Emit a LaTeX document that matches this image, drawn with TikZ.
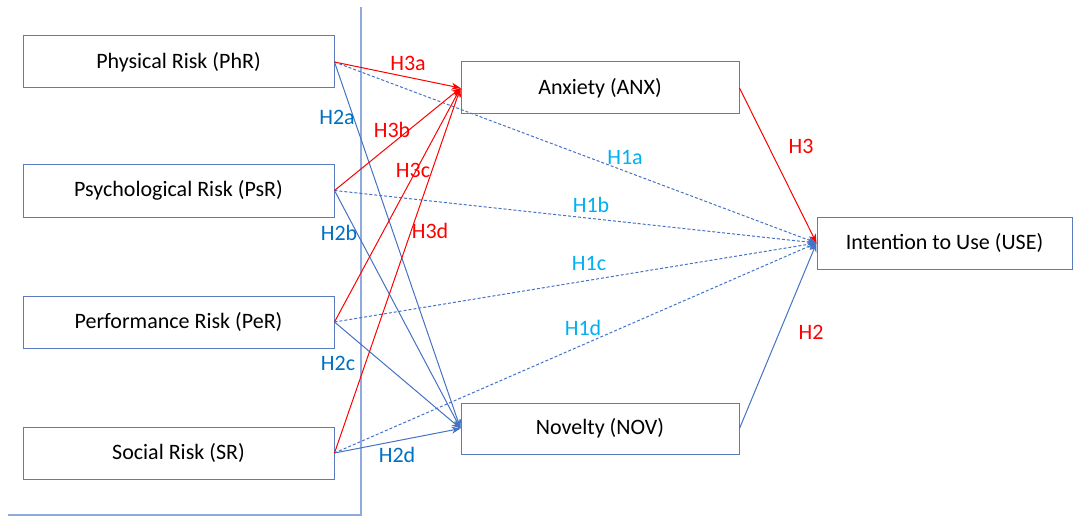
\documentclass[tikz,border=0pt]{standalone}
\usepackage{fontspec}
\setmainfont{Carlito}
\usetikzlibrary{arrows.meta}
\definecolor{boxline}{HTML}{5B7BBF}
\definecolor{linkblue}{HTML}{4472C4}
\definecolor{hblue}{HTML}{0070C0}
\definecolor{hcyan}{HTML}{00B0F0}
\definecolor{hred}{HTML}{FF0000}
\definecolor{frameline}{HTML}{8FAADC}
\tikzset{
  construct/.style={draw=boxline, line width=1pt, inner sep=0pt, font=\fontsize{22}{26}\selectfont},
  redlink/.style={draw=hred, line width=1pt, -{Stealth[length=9pt,width=7pt]}},
  bluelink/.style={draw=linkblue, line width=1pt, -{Stealth[length=9pt,width=7pt]}},
  dotlink/.style={draw=linkblue, line width=1pt, dash pattern=on 3pt off 2pt, -{Stealth[length=9pt,width=7pt]}},
  hyp/.style={font=\fontsize{22}{26}\selectfont, inner sep=0pt},
}
\begin{document}
\begin{tikzpicture}[x=1pt, y=-1pt]
\useasboundingbox (0,0) rectangle (1076,516);
% frame edge
\draw[frameline, line width=1.5pt] (361,7) -- (361,515) -- (8,515);
% constructs
\node[construct, minimum width=311pt, minimum height=52pt] (phr) at (178.5,62) {Physical Risk (PhR)};
\node[construct, minimum width=311pt, minimum height=53pt] (psr) at (178.5,190.5) {Psychological Risk (PsR)};
\node[construct, minimum width=311pt, minimum height=52pt] (per) at (178.5,322) {Performance Risk (PeR)};
\node[construct, minimum width=311pt, minimum height=52pt] (sr) at (178.5,453) {Social Risk (SR)};
\node[construct, minimum width=278pt, minimum height=52pt] (anx) at (600,88) {Anxiety (ANX)};
\node[construct, minimum width=278pt, minimum height=51pt] (nov) at (600,428.5) {Novelty (NOV)};
\node[construct, minimum width=255pt, minimum height=52pt] (use) at (944.5,243) {Intention to Use (USE)};
% direct effects on intention
\draw[dotlink] (phr.east) -- (use.west);
\draw[dotlink] (psr.east) -- (use.west);
\draw[dotlink] (per.east) -- (use.west);
\draw[dotlink] (sr.east) -- (use.west);
% effects on novelty
\draw[bluelink] (phr.east) -- (nov.west);
\draw[bluelink] (psr.east) -- (nov.west);
\draw[bluelink] (per.east) -- (nov.west);
\draw[bluelink] (sr.east) -- (nov.west);
% effects on anxiety
\draw[redlink] (phr.east) -- (anx.west);
\draw[redlink] (psr.east) -- (anx.west);
\draw[redlink] (per.east) -- (anx.west);
\draw[redlink] (sr.east) -- (anx.west);
% mediators to intention
\draw[redlink] (anx.east) -- (use.west);
\draw[bluelink] (nov.east) -- (use.west);
% hypothesis labels
\node[hyp, text=hred] (l3a) at (408,63) {H3a};
\node[hyp, text=hred] (l3b) at (392,130) {H3b};
\node[hyp, text=hred] (l3c) at (413,170) {H3c};
\node[hyp, text=hred] (l3d) at (430,231) {H3d};
\node[hyp, text=hblue] (l2a) at (337,117) {H2a};
\node[hyp, text=hblue] (l2b) at (339,233) {H2b};
\node[hyp, text=hblue] (l2c) at (338,363) {H2c};
\node[hyp, text=hblue] (l2d) at (397,455) {H2d};
\node[hyp, text=hcyan] (l1a) at (625,158) {H1a};
\node[hyp, text=hcyan] (l1b) at (591,205) {H1b};
\node[hyp, text=hcyan] (l1c) at (589,263) {H1c};
\node[hyp, text=hcyan] (l1d) at (583,328) {H1d};
\node[hyp, text=hred] (l3) at (801,146) {H3};
\node[hyp, text=hred] (l2) at (811,332) {H2};
\end{tikzpicture}
\end{document}
